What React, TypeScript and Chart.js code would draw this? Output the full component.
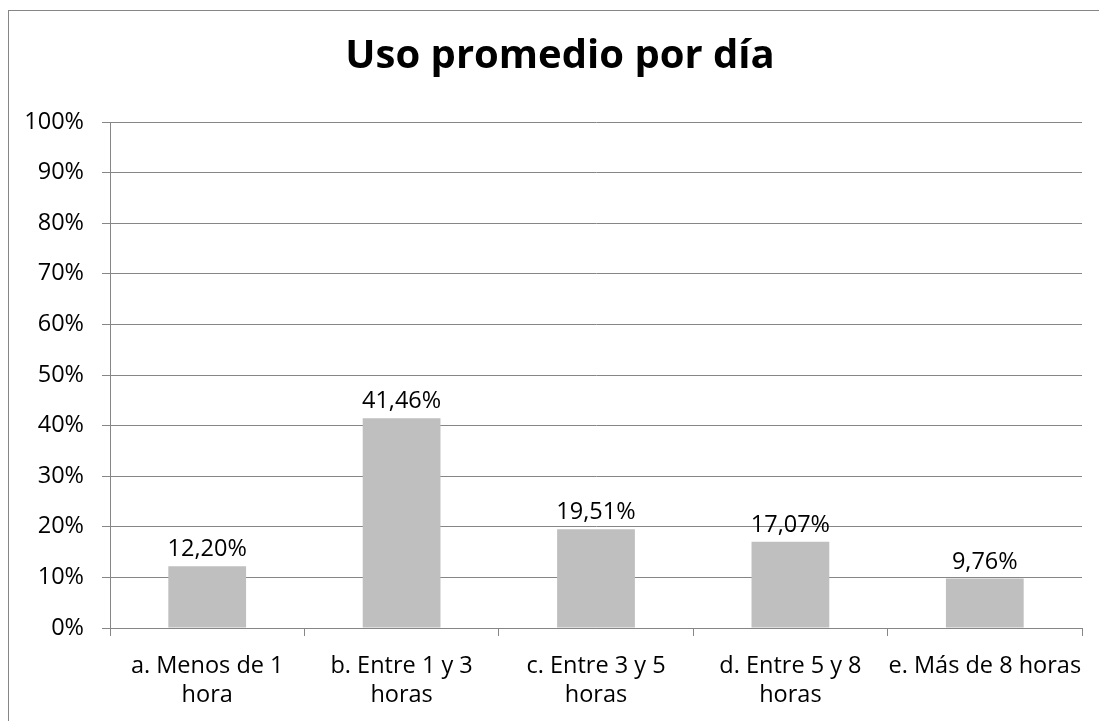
import React, { useEffect, useRef } from 'react';
import { Chart, registerables } from 'chart.js';

Chart.register(...registerables);

const chartTitle = 'Uso promedio por día';
const categories: string[][] = [
  ['a. Menos de 1', 'hora'],
  ['b. Entre 1 y 3', 'horas'],
  ['c. Entre 3 y 5', 'horas'],
  ['d. Entre 5 y 8', 'horas'],
  ['e. Más de 8 horas'],
];
const values: number[] = [12.2, 41.46, 19.51, 17.07, 9.76];
const yMin = 0;
const yMax = 100;
const yStep = 10;

const FONT = '"Open Sans", sans-serif';
const GRID = '#868686';
const TICK_SIZE = 23.5;

const fmt = (v: number) => v.toFixed(2).replace('.', ',') + '%';

const labelPlugin = {
  id: 'barLabels',
  afterDatasetsDraw(chart: any) {
    const ctx = chart.ctx;
    const meta = chart.getDatasetMeta(0);
    ctx.save();
    ctx.font = `${TICK_SIZE}px ${FONT}`;
    ctx.fillStyle = '#000000';
    ctx.textAlign = 'center';
    ctx.textBaseline = 'alphabetic';
    meta.data.forEach((el: any, i: number) => {
      ctx.fillText(fmt(values[i]), el.x, el.y - 10);
    });
    ctx.restore();
  },
};

export default function App() {
  const ref = useRef<HTMLCanvasElement | null>(null);

  useEffect(() => {
    document.documentElement.style.overflow = 'hidden';
    const canvas = ref.current;
    if (!canvas) return;
    const chart = new Chart(canvas, {
      type: 'bar',
      data: {
        labels: categories,
        datasets: [
          {
            data: values,
            backgroundColor: '#BFBFBF',
            borderWidth: 0,
            barPercentage: 0.4,
            categoryPercentage: 1,
          },
        ],
      },
      options: {
        responsive: false,
        animation: false,
        events: [],
        layout: { padding: 0 },
        plugins: {
          legend: { display: false },
          tooltip: { enabled: false },
          title: {
            display: true,
            text: chartTitle,
            color: '#000000',
            font: { family: FONT, size: 40, weight: 'bold', lineHeight: 1.2 },
            padding: { top: 22, bottom: 41 },
          },
        },
        scales: {
          x: {
            grid: {
              drawOnChartArea: false,
              drawTicks: true,
              tickLength: 8,
              color: GRID,
              offset: true,
            },
            border: { color: GRID, width: 1 },
            ticks: {
              color: '#000000',
              font: { family: FONT, size: TICK_SIZE, lineHeight: 1.234 },
              padding: 16,
              maxRotation: 0,
              autoSkip: false,
            },
            afterFit: (scale: any) => {
              scale.height = 101;
            },
          },
          y: {
            min: yMin,
            max: yMax,
            grid: { color: GRID, tickLength: 8, lineWidth: 1 },
            border: { color: GRID, width: 1 },
            ticks: {
              stepSize: yStep,
              color: '#000000',
              font: { family: FONT, size: TICK_SIZE },
              padding: 18,
              callback: (v: any) => `${v}%`,
            },
            afterFit: (scale: any) => {
              scale.width = 101;
            },
          },
          yRightSpace: {
            type: 'linear',
            position: 'right',
            min: yMin,
            max: yMax,
            grid: { display: false, drawTicks: false },
            border: { display: false },
            ticks: { display: false },
            afterFit: (scale: any) => {
              scale.width = 29;
            },
          },
        },
      },
      plugins: [labelPlugin],
    });
    return () => chart.destroy();
  }, []);

  return (
    <div
      style={{
        position: 'fixed',
        left: 8,
        top: 10,
        width: 1140,
        height: 740,
        borderTop: `1px solid ${GRID}`,
        borderLeft: `1px solid ${GRID}`,
        boxSizing: 'border-box',
        background: '#ffffff',
      }}
    >
      <canvas ref={ref} width={1102} height={718} style={{ display: 'block' }} />
    </div>
  );
}
